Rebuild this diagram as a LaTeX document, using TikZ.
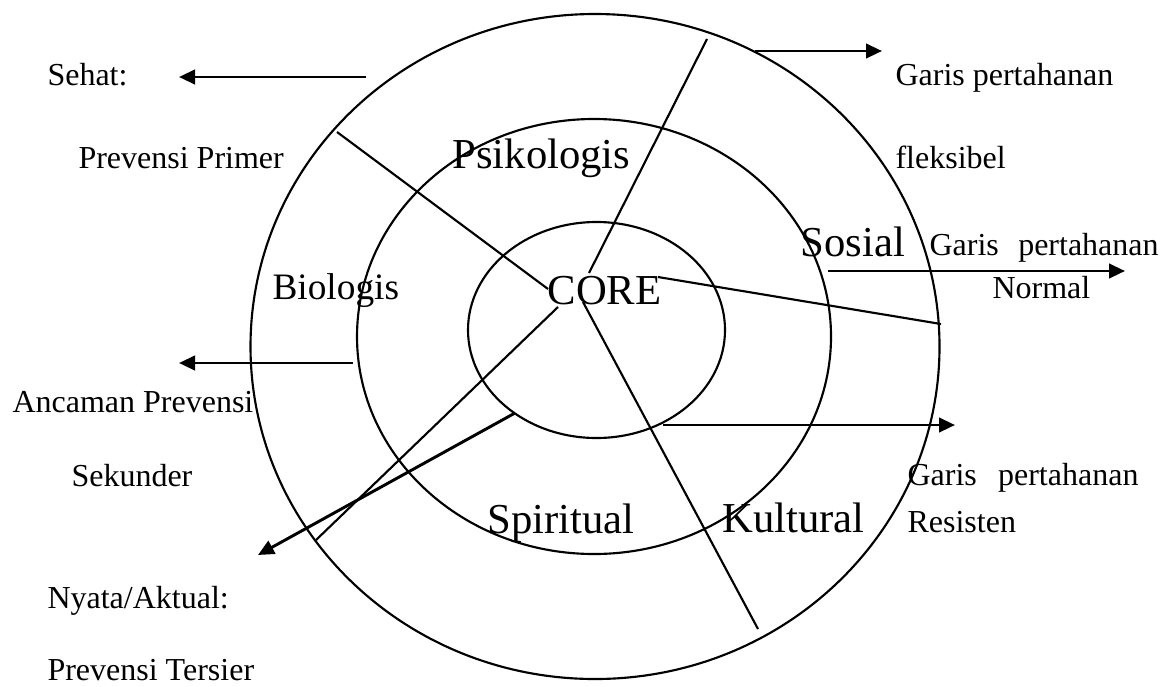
\documentclass[tikz,border=0pt]{standalone}
\usepackage{fontspec}
\setmainfont{Liberation Serif}
\usetikzlibrary{arrows.meta}
\begin{document}
\begin{tikzpicture}[x=0.375pt,y=-0.375pt,
  ring/.style={line width=0.8pt},
  divider/.style={line width=0.8pt},
  pointer/.style={line width=1.1pt,-{Triangle[length=6pt,width=5.4pt]}},
  small/.style={inner sep=0pt,anchor=base west,font=\fontsize{12}{14}\selectfont},
  mid/.style={inner sep=0pt,anchor=base west,font=\fontsize{14}{16}\selectfont},
  big/.style={inner sep=0pt,anchor=base west,font=\fontsize{16}{19}\selectfont}]
\useasboundingbox (0,0) rectangle (1171,686);

% rings
\draw[ring] (595,346.5) ellipse [x radius=344.5, y radius=332.5];
\draw[ring] (594,336.5) ellipse [x radius=237, y radius=217.5];
\draw[ring] (596.5,330) ellipse [x radius=128.5, y radius=108];

% divider end points
\coordinate (d1a) at (337,132);  \coordinate (d1b) at (548,289);
\coordinate (d2a) at (707,39);   \coordinate (d2b) at (589,273);
\coordinate (d3a) at (583,302);  \coordinate (d3b) at (758,629);
\coordinate (d4a) at (558,307);  \coordinate (d4b) at (316,540);
\coordinate (d5a) at (658,277);  \coordinate (d5b) at (941,324);

\draw[divider] (d1a) -- (d1b);
\draw[divider] (d2a) -- (d2b);
\draw[divider] (d3a) -- (d3b);
\draw[divider] (d4a) -- (d4b);
\draw[divider] (d5a) -- (d5b);

% arrow end points
\coordinate (sehatS) at (366,77);   \coordinate (sehatE) at (179,77);
\coordinate (flexS) at (755,51);    \coordinate (flexE) at (882,51);
\coordinate (normS) at (828,271);   \coordinate (normE) at (1125,271);
\coordinate (ancS) at (353,363);    \coordinate (ancE) at (179,363);
\coordinate (resS) at (663,425);    \coordinate (resE) at (955,425);
\coordinate (nyaS) at (515,413);    \coordinate (nyaE) at (258,555);

\draw[pointer] (sehatS) -- (sehatE);
\draw[pointer] (flexS) -- (flexE);
\draw[pointer] (normS) -- (normE);
\draw[pointer] (ancS) -- (ancE);
\draw[pointer] (resS) -- (resE);
\draw[pointer] (nyaS) -- (nyaE);

% labels
\node[small] (sehat) at (47,85) {Sehat:};
\node[small] (primer) at (78,168) {Prevensi Primer};
\node[big] (psiko) at (452,168) {Psikologis};
\node[small] (gp1) at (895,85) {Garis pertahanan};
\node[small] (flex) at (895,168) {fleksibel};
\node[big] (sosial) at (800,256) {Sosial};
\node[small] (gp2) at (929,255) {\hbox to 85.9pt{Garis\hfill pertahanan}};
\node[small] (normal) at (992,298) {Normal};
\node[mid] (bio) at (272,299) {Biologis};
\node[big] (core) at (547,304) {CORE};
\node[small] (ancaman) at (12,412) {Ancaman Prevensi};
\node[small] (sekunder) at (71,486) {Sekunder};
\node[small] (gp3) at (907,485) {\hbox to 86.6pt{Garis\hfill pertahanan}};
\node[small] (resisten) at (907,532) {Resisten};
\node[big] (spirit) at (487,533) {Spiritual};
\node[big] (kultur) at (722,532) {Kultural};
\node[small] (nyata) at (47,608) {Nyata/Aktual:};
\node[small] (tersier) at (47,680) {Prevensi Tersier};
\end{tikzpicture}
\end{document}
